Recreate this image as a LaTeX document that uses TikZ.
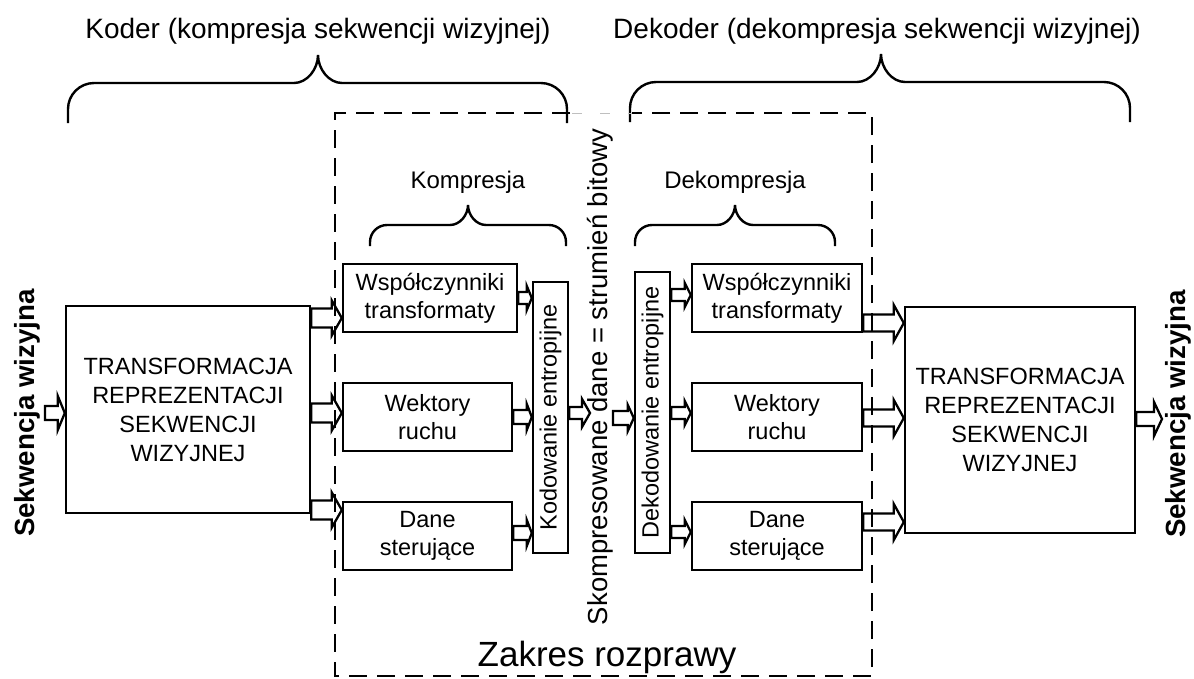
\documentclass[tikz,border=0pt]{standalone}
\usepackage{fontspec}
\setmainfont{Liberation Sans}
\usetikzlibrary{calc}
\tikzset{
  box/.style={draw, line width=2.4pt, inner sep=0pt, align=center, fill=white,
    font=\fontsize{23.5}{28}\selectfont},
  bigbox/.style={box, font=\fontsize{23.5}{29}\selectfont},
  blk/.style={draw, fill=white, line width=2.3pt, line join=miter},
  bracestyle/.style={draw, line width=2.4pt, line cap=butt},
  zakres/.style={draw, line width=2.3pt, dash pattern=on 18pt off 10pt},
  title/.style={inner sep=0pt, font=\fontsize{28}{32}\selectfont},
  subtitle/.style={inner sep=0pt, font=\fontsize{24}{28}\selectfont},
  seq/.style={inner sep=0pt, rotate=90, font=\fontsize{27.7}{30}\selectfont\bfseries},
}
% hollow block arrow: #1 from, #2 to, #3 y, #4 shaft half, #5 head half, #6 head length
\newcommand{\barr}[6]{%
  \path[blk] let \p1=(#1), \p2=(#2), \p3=(0,#3) in
    (\x1,\y3-#4pt) -- (\x2-#6pt,\y3-#4pt) -- (\x2-#6pt,\y3-#5pt) -- (\x2,\y3)
    -- (\x2-#6pt,\y3+#5pt) -- (\x2-#6pt,\y3+#4pt) -- (\x1,\y3+#4pt) -- cycle;}
% brace: #1 x1, #2 x2, #3 xtip, #4 yend, #5 yh, #6 ytip, #7 corner r, #8 tip half width
\newcommand{\hbrace}[8]{%
  \draw[bracestyle] (#1,#4) -- (#1,#5+#7)
    .. controls (#1,#5+0.45*#7) and (#1+0.45*#7,#5) .. (#1+#7,#5)
    -- (#3-#8,#5) .. controls (#3-0.45*#8,#5) and (#3,{#5-0.5*(#5-#6)}) .. (#3,#6)
    .. controls (#3,{#5-0.5*(#5-#6)}) and (#3+0.45*#8,#5) .. (#3+#8,#5)
    -- (#2-#7,#5) .. controls (#2-0.45*#7,#5) and (#2,#5+0.45*#7) .. (#2,#5+#7) -- (#2,#4);}
\begin{document}
\begin{tikzpicture}[x=1pt, y=-1pt]
\useasboundingbox (0,0) rectangle (1194,678);
\fill[white] (0,0) rectangle (1194,678);

% braces and titles
\hbrace{68}{567}{318}{123}{83}{55}{26}{24}
\hbrace{630}{1130}{881}{122}{82}{54}{26}{24}
\hbrace{370}{566}{468}{246}{225}{205}{17}{18}
\hbrace{635}{835}{735}{246}{225}{205}{17}{18}
\node[title] (koder) at (318,31) {Koder (kompresja sekwencji wizyjnej)};
\node[title] (dekoder) at (877,31) {Dekoder (dekompresja sekwencji wizyjnej)};
\node[subtitle] (kompr) at (468,182) {Kompresja};
\node[subtitle] (dekompr) at (735,182) {Dekompresja};

% big boxes
\node[bigbox, minimum width=244pt, minimum height=207pt] (L) at (188,409.5)
  {TRANSFORMACJA\\REPREZENTACJI\\SEKWENCJI\\WIZYJNEJ};
\node[bigbox, minimum width=230pt, minimum height=226pt] (R) at (1020,420)
  {TRANSFORMACJA\\REPREZENTACJI\\SEKWENCJI\\WIZYJNEJ};

% encoder boxes
\node[box, minimum width=174pt, minimum height=68pt] (ew) at (430,298) {Współczynniki\\transformaty};
\node[box, minimum width=169pt, minimum height=68pt] (ev) at (427.5,417) {Wektory\\ruchu};
\node[box, minimum width=169pt, minimum height=68pt] (ed) at (427.5,536) {Dane\\sterujące};
\node[box, rotate=90, minimum width=271pt, minimum height=35pt] (kod) at (550.5,417.5) {Kodowanie entropijne};

% decoder boxes
\node[box, rotate=90, minimum width=281pt, minimum height=35pt] (dek) at (652.5,412.5) {Dekodowanie entropijne};
\node[box, minimum width=170pt, minimum height=68pt] (dw) at (777,298) {Współczynniki\\transformaty};
\node[box, minimum width=170pt, minimum height=68pt] (dv) at (777,417) {Wektory\\ruchu};
\node[box, minimum width=170pt, minimum height=68pt] (dd) at (777,536) {Dane\\sterujące};

% side and middle texts
\node[seq] (seqL) at (27,413) {Sekwencja wizyjna};
\node[seq] (seqR) at (1178,414) {Sekwencja wizyjna};
\node[inner sep=0pt, rotate=90, font=\fontsize{27.5}{30}\selectfont] (mid) at (600,377)
  {Skompresowane dane = strumień bitowy};
\node[inner sep=0pt, font=\fontsize{35}{40}\selectfont] (zak) at (607,657) {Zakres rozprawy};

% free ends
\coordinate (inL) at (45,413);
\coordinate (kodout) at (590,413);
\coordinate (dekin) at (613,418);
\coordinate (outR) at (1162,419);

% arrows
\barr{inL}{L.west}{413}{7}{17}{7}
\barr{L.east}{ew.west}{318}{9.5}{17.5}{10}
\barr{L.east}{ev.west}{413}{9.5}{17.5}{10}
\barr{L.east}{ed.west}{510}{9.5}{17.5}{10}
\barr{ew.east}{kod.north}{298}{6}{12}{5}
\barr{ev.east}{kod.north}{417}{7}{13}{5}
\barr{ed.east}{kod.north}{533}{7}{13}{5}
\barr{kod.south}{kodout}{413}{6}{14}{8}
\barr{dekin}{dek.north}{418}{7}{13}{6}
\barr{dek.south}{dw.west}{295}{6}{12}{6}
\barr{dek.south}{dv.west}{413}{6}{12}{6}
\barr{dek.south}{dd.west}{532}{6}{12}{6}
\barr{dw.east}{R.west}{323}{8.5}{18}{10}
\barr{dv.east}{R.west}{418}{8.5}{18}{10}
\barr{dd.east}{R.west}{522}{8.5}{18}{10}
\barr{R.east}{outR}{419}{7}{17}{8}

% dashed scope rectangle (on top, as in the reference)
\draw[zakres] (570,113) -- (335,113) -- (335,676) -- (872,676) -- (872,113) -- (632,113);
\draw[gray!50, line width=0.8pt, dash pattern=on 10pt off 18pt] (572,113) -- (632,113);
\end{tikzpicture}
\end{document}
